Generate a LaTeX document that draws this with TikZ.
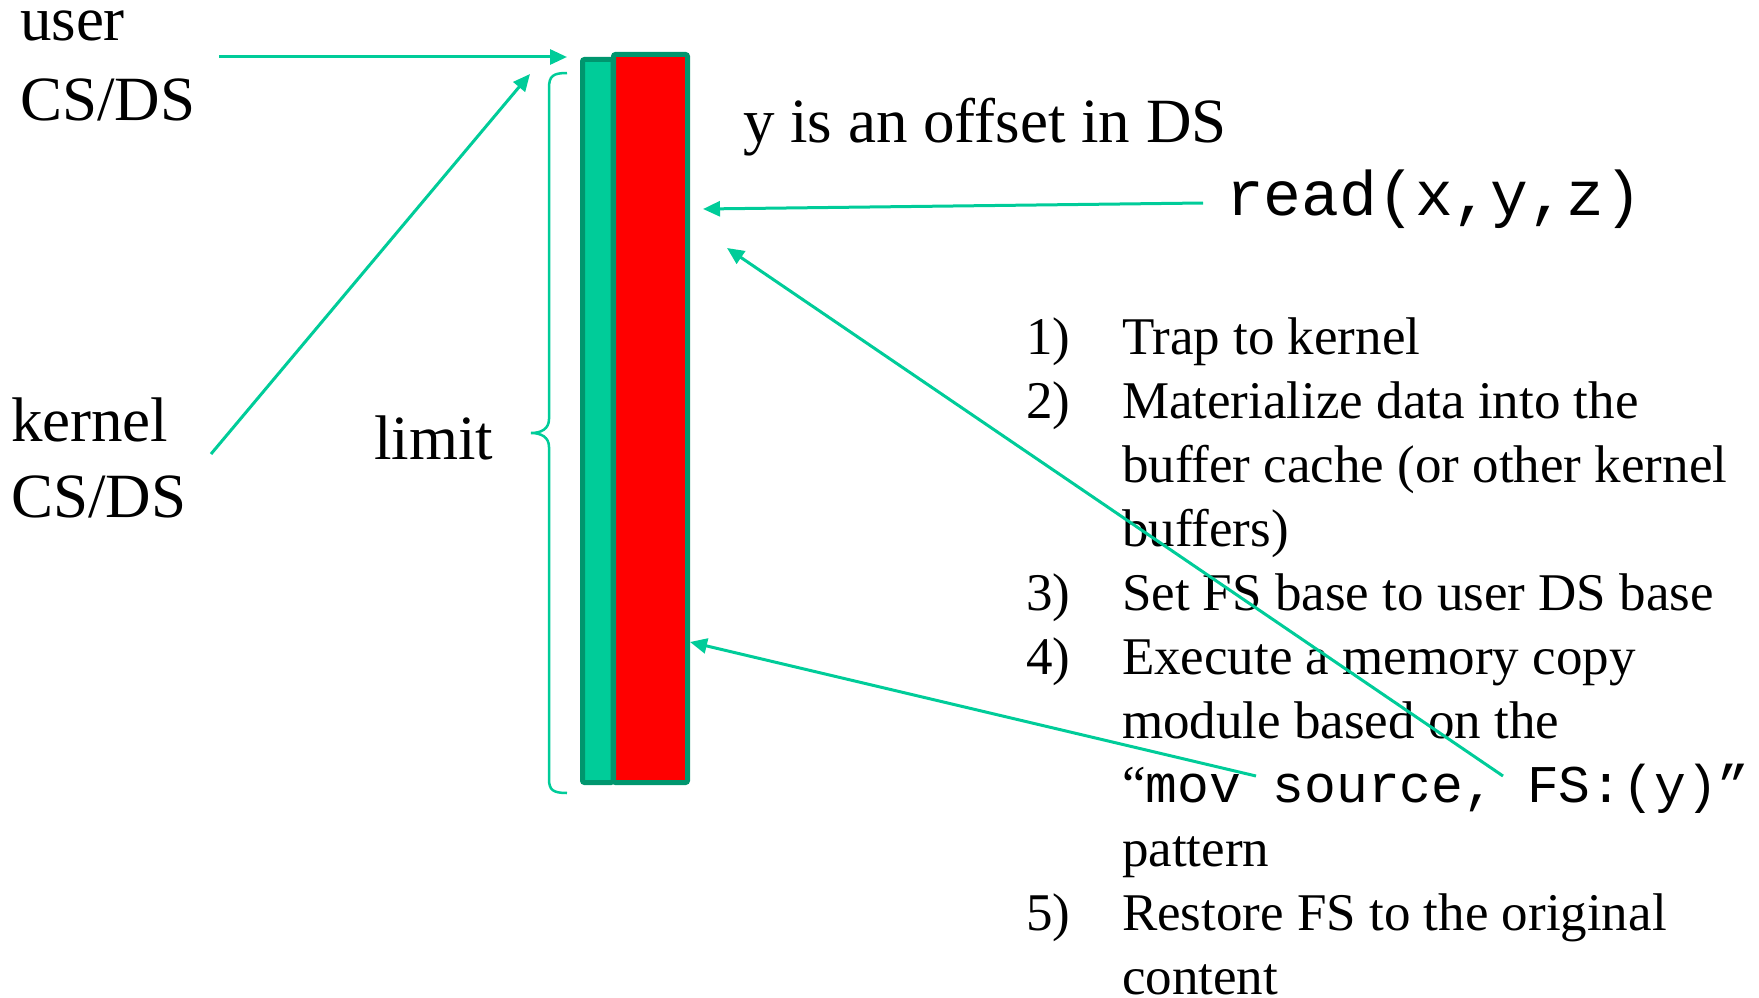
\documentclass[tikz,border=0pt]{standalone}
\usepackage{fontspec}
\setmainfont{Liberation Serif}
\newfontfamily\codefont{Liberation Mono}
\usetikzlibrary{arrows.meta}
\definecolor{arrowgreen}{RGB}{0,204,153}
\definecolor{barfill}{RGB}{0,204,153}
\definecolor{barline}{RGB}{0,150,110}
\definecolor{barred}{RGB}{255,0,0}
\tikzset{
  big/.style={font=\fontsize{63}{76}\selectfont, inner sep=0pt, outer sep=0pt, anchor=base west},
  listtext/.style={font=\fontsize{53}{64}\selectfont, inner sep=0pt, outer sep=0pt, anchor=base west},
  link/.style={draw=arrowgreen, line width=3pt, -{Triangle[length=17pt,width=15pt]}},
  bracepath/.style={draw=arrowgreen, line width=2.5pt},
  segbar/.style={draw=barline, line width=5pt, rounded corners=2pt, inner sep=0pt, outer sep=0pt, anchor=north west}
}
\begin{document}
\begin{tikzpicture}[x=1pt,y=-1pt]
\useasboundingbox (0,0) rectangle (1759,998);
% segment bars
\node[segbar, fill=barfill, minimum width=30.5pt, minimum height=723pt] (greenbar) at (582.5,59.5) {};
\node[segbar, fill=barred, minimum width=74pt, minimum height=728pt] (redbar) at (613.5,54.5) {};
% brace
\draw[bracepath] (567,73) .. controls (553,73) and (549,76) .. (549,88) -- (549,419)
  .. controls (549,429) and (541,433) .. (531,433)
  .. controls (541,433) and (549,437) .. (549,447) -- (549,779)
  .. controls (549,790) and (553,793) .. (567,793);
% left labels
\node[big] (user) at (20,41) {user};
\node[big] (usercs) at (20,120) {CS/DS};
\node[big] (kernel) at (11,441) {kernel};
\node[big] (kernelcs) at (11,517) {CS/DS};
\node[big] (limit) at (374,459) {limit};
\node[big] (offset) at (743,142) {y is an offset in DS};
\node[big, font=\fontsize{63}{76}\codefont] (read) at (1226,215) {read(x,y,z)};
% list
\node[listtext] (n1) at (1026,354) {1)};
\node[listtext] (t1) at (1122,354) {Trap to kernel};
\node[listtext] (n2) at (1026,418) {2)};
\node[listtext] (t2a) at (1122,418) {Materialize data into the};
\node[listtext] (t2b) at (1122,482) {buffer cache (or other kernel};
\node[listtext] (t2c) at (1122,546) {buffers)};
\node[listtext] (n3) at (1026,610) {3)};
\node[listtext] (t3) at (1122,610) {Set FS base to user DS base};
\node[listtext] (n4) at (1026,674) {4)};
\node[listtext] (t4a) at (1122,674) {Execute a memory copy};
\node[listtext] (t4b) at (1122,738) {module based on the};
\node[listtext] (t4c) at (1122,802) {“{\codefont mov source, FS:(y)”}};
\node[listtext] (t4d) at (1122,866) {pattern};
\node[listtext] (n5) at (1026,930) {5)};
\node[listtext] (t5a) at (1122,930) {Restore FS to the original};
\node[listtext] (t5b) at (1122,994) {content};
% connectors
\coordinate (userfrom) at (219,57);
\coordinate (userto) at (567,57);
\coordinate (kernelfrom) at (211,454);
\coordinate (kernelto) at (530,74);
\coordinate (readfrom) at (1203,203);
\coordinate (readto) at (703,209);
\coordinate (fsfrom) at (1503,776);
\coordinate (fsto) at (727,248);
\coordinate (movfrom) at (1256,776);
\coordinate (movto) at (690,642);
\draw[link] (userfrom) -- (userto);
\draw[link] (kernelfrom) -- (kernelto);
\draw[link] (readfrom) -- (readto);
\draw[link] (fsfrom) -- (fsto);
\draw[link] (movfrom) -- (movto);
\end{tikzpicture}
\end{document}
